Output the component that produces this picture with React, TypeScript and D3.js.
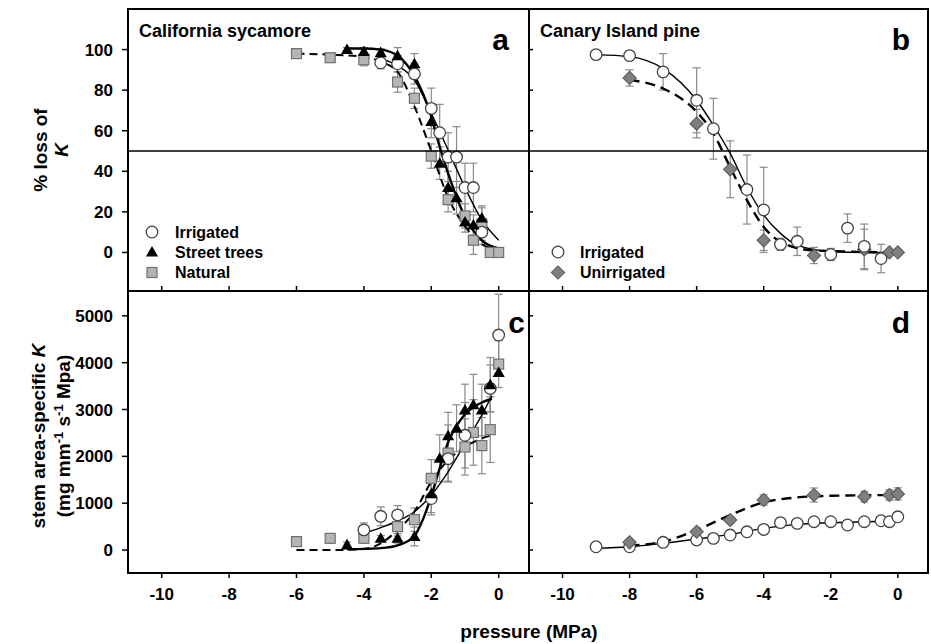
import React from 'react';
import * as d3 from 'd3';

// panel a: California sycamore, % loss of K
const aIrrX = [-3.5, -3, -2.5, -2, -1.75, -1.5, -1.25, -1, -0.75, -0.5];
const aIrrY = [93.5, 93, 88, 71, 59, 47, 47, 32, 32, 10];
const aIrrE = [3, 4, 5, 10, 14, 12, 15, 12, 12, 6];
const aStrX = [-4.5, -4, -3.5, -3, -2.5, -2, -1.75, -1.5, -1.25, -1, -0.75, -0.5];
const aStrY = [100, 99, 98.5, 97, 93, 64.5, 44, 32, 27, 15, 13.5, 17];
const aStrE = [1, 2, 2, 4, 5, 8, 8, 8, 8, 5, 5, 6];
const aNatX = [-6, -5, -4, -3, -2.5, -2, -1.5, -1, -0.75, -0.5, -0.25, 0];
const aNatY = [98, 96, 95, 84, 76, 47.5, 26, 18, 6, 14, 0, 0];
const aNatE = [1, 1, 3, 5, 5, 6, 6, 6, 7, 8, 1, 1];

const aIrrFitX = [-3.5, -3, -2.5, -2, -1.5, -1, -0.5, 0];
const aIrrFitY = [95.7, 92, 85, 68.6, 50.5, 32, 16, 6];
const aStrFitX = [-4.5, -4, -3.5, -3, -2.5, -2, -1.75, -1.5, -1, -0.5, 0];
const aStrFitY = [100.5, 100.5, 100, 97, 87, 67, 52, 39, 17.6, 6, 2];
const aNatFitX = [-6, -5, -4, -3.5, -3, -2.5, -2, -1.5, -1, -0.5, 0];
const aNatFitY = [98, 97.5, 96.5, 94, 89, 72, 50, 27, 13, 4, 1.5];

// panel b: Canary Island pine, % loss of K
const bIrrX = [-9, -8, -7, -6, -5.5, -4.5, -4, -3.5, -3, -2, -1.5, -1, -0.5];
const bIrrY = [97.5, 97, 89, 75, 61, 31, 21, 4, 5.5, -1, 12, 3, -3];
const bIrrE = [2, 2, 9, 16, 15, 17, 21, 3, 7, 3, 7, 11, 7];
const bUnX = [-8, -6, -5, -4, -2.5, -1, -0.25, 0];
const bUnY = [86, 63.5, 41, 6, -1.5, 1.5, 0, 0];
const bUnE = [4, 7, 14, 5, 4, 10, 1, 1];

const bIrrFitX = [-9, -8, -7, -6, -5.5, -5, -4.5, -4, -3.5, -3, -2, -1, 0];
const bIrrFitY = [97.5, 96.5, 90.6, 75, 62.7, 48.8, 32, 18.4, 9.4, 3.6, 0.5, 0, 0];
const bUnFitX = [-8, -7, -6, -5.5, -5, -4.5, -4, -3.5, -2.5, 0];
const bUnFitY = [85, 80.8, 69.3, 58.6, 42, 25.8, 12.6, 5.3, 1, 0];

// panel c: California sycamore, stem area-specific K
const cIrrX = [-4, -3.5, -3, -2, -1.5, -1, -0.25, 0];
const cIrrY = [430, 720, 750, 1100, 1950, 2450, 3450, 4590];
const cIrrE = [150, 200, 200, 350, 500, 700, 500, 870];
const cStrX = [-4.5, -3.5, -3, -2.5, -2, -1.75, -1.5, -1.25, -1, -0.75, -0.5, -0.25, 0];
const cStrY = [110, 250, 250, 290, 1200, 1960, 2440, 2600, 2990, 3100, 2990, 3530, 3790];
const cStrE = [60, 60, 100, 200, 400, 500, 500, 500, 550, 650, 550, 580, 0];
const cNatX = [-6, -5, -4, -3, -2.5, -2, -1.5, -1, -0.75, -0.5, -0.25, 0];
const cNatY = [180, 250, 250, 500, 650, 1530, 2070, 2200, 2510, 2230, 2570, 3970];
const cNatE = [0, 0, 100, 200, 250, 400, 600, 600, 700, 600, 700, 500];

const cIrrFitX = [-4, -3.5, -3, -2.5, -2, -1.5, -1, -0.5, -0.2];
const cIrrFitY = [356, 480, 620, 818, 1174, 1671, 2276, 2880, 3300];
const cStrFitX = [-4.5, -4, -3.5, -3, -2.5, -2.25, -2, -1.75, -1.5, -1.25, -1, -0.75, -0.5, -0.2];
const cStrFitY = [20, 25, 40, 100, 300, 650, 1150, 1750, 2300, 2650, 2900, 3050, 3150, 3230];
const cNatFitX = [-6, -5, -4, -3.5, -3, -2.5, -2, -1.5, -1, -0.5, -0.2];
const cNatFitY = [0, 0, 20, 142, 427, 818, 1458, 1920, 2205, 2383, 2454];

// panel d: Canary Island pine, stem area-specific K
const dIrrX = [-9, -8, -7, -6, -5.5, -5, -4.5, -4, -3.5, -3, -2.5, -2, -1.5, -1, -0.5, -0.25, 0];
const dIrrY = [70, 70, 165, 215, 250, 320, 390, 440, 585, 570, 605, 605, 535, 605, 625, 605, 710];
const dUnX = [-8, -6, -5, -4, -2.5, -1, -0.25, 0];
const dUnY = [164, 391, 641, 1068, 1175, 1140, 1175, 1197];
const dUnE = [60, 60, 60, 110, 150, 110, 110, 130];

const dIrrFitX = [-9, -8, -7, -6, -5, -4, -3, -2, -1, 0];
const dIrrFitY = [36, 71, 142, 235, 334, 462, 548, 583, 605, 619];
const dUnFitX = [-8, -7, -6, -5, -4, -3, -2, 0];
const dUnFitY = [92, 178, 427, 747, 1017, 1124, 1159, 1174];

const xTicks = [-10, -8, -6, -4, -2, 0];
const lossTicks = [0, 20, 40, 60, 80, 100];
const kTicks = [0, 1000, 2000, 3000, 4000, 5000];

const FONT = '"Liberation Sans", Arial, sans-serif';

const zip = (xs: number[], ys: number[], es?: number[]) =>
  xs.map((x, i) => ({ x, y: ys[i], e: es ? es[i] : 0 }));

type Pt = { x: number; y: number; e: number };

function Marker({ kind, x, y }: { kind: string; x: number; y: number }) {
  if (kind === 'circle')
    return <circle cx={x} cy={y} r={5.8} fill="#fff" stroke="#444" strokeWidth={1.3} />;
  if (kind === 'tri')
    return <path d={d3.symbol(d3.symbolTriangle, 64)()!} transform={`translate(${x},${y + 1})`} fill="#000" />;
  if (kind === 'square')
    return <rect x={x - 5} y={y - 5} width={10} height={10} fill="#b5b5b5" stroke="#707070" strokeWidth={1.2} />;
  return <rect x={x - 4.7} y={y - 4.7} width={9.4} height={9.4} fill="#7f7f7f" stroke="#555" strokeWidth={1}
    transform={`rotate(45 ${x} ${y})`} />;
}

function Panel({ x0, x1, y0, y1, yDomain, series, fits, top, left }: any) {
  const x = d3.scaleLinear().domain([-11, 0.9]).range([x0, x1]);
  const y = d3.scaleLinear().domain(yDomain).range([y1, y0]);
  const line = d3.line<number>().curve(d3.curveMonotoneX);
  return (
    <g>
      {series.map((s: any, si: number) =>
        s.pts.filter((p: Pt) => p.e > 0).map((p: Pt, i: number) => {
          const cx = x(p.x), ya = y(p.y + p.e), yb = y(p.y - p.e);
          return (
            <g key={`e${si}-${i}`} stroke="#8a8a8a" strokeWidth={1.2}>
              <line x1={cx} x2={cx} y1={ya} y2={yb} />
              <line x1={cx - 4} x2={cx + 4} y1={ya} y2={ya} />
              <line x1={cx - 4} x2={cx + 4} y1={yb} y2={yb} />
            </g>
          );
        })
      )}
      {fits.map((f: any, i: number) => {
        const d = line.x((_, k) => x(f.xs[k])).y((_, k) => y(f.ys[k]))(f.xs);
        return <path key={`f${i}`} d={d!} fill="none" stroke="#000" strokeWidth={f.w}
          strokeDasharray={f.dash || null} />;
      })}
      {series.map((s: any, si: number) =>
        s.pts.map((p: Pt, i: number) => <Marker key={`m${si}-${i}`} kind={s.kind} x={x(p.x)} y={y(p.y)} />)
      )}
      {top && <line x1={x0} x2={x1} y1={y(50)} y2={y(50)} stroke="#000" strokeWidth={1.5} />}
      {xTicks.map(t => (
        <line key={`xt${t}`} x1={x(t)} x2={x(t)} y1={y1} y2={top ? y1 - 5 : y1 + 5} stroke="#000" strokeWidth={1.5} />
      ))}
      {!top && xTicks.map(t => (
        <text key={`xl${t}`} x={x(t)} y={600} textAnchor="middle" fontSize={17} fontWeight="bold"
          fontFamily={FONT}>{t}</text>
      ))}
      {(top ? lossTicks : kTicks).map(t => (
        <line key={`yt${t}`} x1={x0} x2={left ? x0 - 6 : x0 + 4} y1={y(t)} y2={y(t)} stroke="#000" strokeWidth={1.5} />
      ))}
      {left && (top ? lossTicks : kTicks).map(t => (
        <text key={`yl${t}`} x={x0 - 15} y={y(t) + 6} textAnchor="end" fontSize={17} fontWeight="bold"
          fontFamily={FONT}>{t}</text>
      ))}
      <rect x={x0} y={y0} width={x1 - x0} height={y1 - y0} fill="none" stroke="#000" strokeWidth={2} />
    </g>
  );
}

export default function App() {
  const L0 = 128, L1 = 529, R1 = 928, T0 = 9, M = 291, B1 = 573;
  const lossDom = [-19, 120];
  const kDom = [-490, 5530];
  return (
    <div style={{ position: 'absolute', left: 0, top: 0 }}>
      <svg width={931} height={644} style={{ display: 'block', background: '#fff' }}>
        <Panel x0={L0} x1={L1} y0={T0} y1={M} yDomain={lossDom} top left
          series={[
            { kind: 'square', pts: zip(aNatX, aNatY, aNatE) },
            { kind: 'circle', pts: zip(aIrrX, aIrrY, aIrrE) },
            { kind: 'tri', pts: zip(aStrX, aStrY, aStrE) },
          ]}
          fits={[
            { xs: aNatFitX, ys: aNatFitY, w: 2, dash: '8,5' },
            { xs: aIrrFitX, ys: aIrrFitY, w: 1.4 },
            { xs: aStrFitX, ys: aStrFitY, w: 2.4 },
          ]} />
        <Panel x0={L1} x1={R1} y0={T0} y1={M} yDomain={lossDom} top
          series={[
            { kind: 'diamond', pts: zip(bUnX, bUnY, bUnE) },
            { kind: 'circle', pts: zip(bIrrX, bIrrY, bIrrE) },
          ]}
          fits={[
            { xs: bUnFitX, ys: bUnFitY, w: 2.4, dash: '10,6' },
            { xs: bIrrFitX, ys: bIrrFitY, w: 1.4 },
          ]} />
        <Panel x0={L0} x1={L1} y0={M} y1={B1} yDomain={kDom} left
          series={[
            { kind: 'square', pts: zip(cNatX, cNatY, cNatE) },
            { kind: 'circle', pts: zip(cIrrX, cIrrY, cIrrE) },
            { kind: 'tri', pts: zip(cStrX, cStrY, cStrE) },
          ]}
          fits={[
            { xs: cNatFitX, ys: cNatFitY, w: 2, dash: '8,5' },
            { xs: cIrrFitX, ys: cIrrFitY, w: 1.4 },
            { xs: cStrFitX, ys: cStrFitY, w: 2.4 },
          ]} />
        <Panel x0={L1} x1={R1} y0={M} y1={B1} yDomain={kDom}
          series={[
            { kind: 'circle', pts: zip(dIrrX, dIrrY, dIrrX.map(() => 40)) },
            { kind: 'diamond', pts: zip(dUnX, dUnY, dUnE) },
          ]}
          fits={[
            { xs: dUnFitX, ys: dUnFitY, w: 2.4, dash: '10,6' },
            { xs: dIrrFitX, ys: dIrrFitY, w: 1.4 },
          ]} />

        <g fontFamily={FONT} fontWeight="bold">
          <text x={139} y={37} fontSize={18}>California sycamore</text>
          <text x={540} y={37} fontSize={18}>Canary Island pine</text>
          <text x={509} y={50} fontSize={30} textAnchor="end">a</text>
          <text x={910} y={50} fontSize={30} textAnchor="end">b</text>
          <text x={525} y={333} fontSize={30} textAnchor="end">c</text>
          <text x={910} y={333} fontSize={30} textAnchor="end">d</text>

          <Marker kind="circle" x={152} y={232} />
          <Marker kind="tri" x={152} y={252} />
          <Marker kind="square" x={152} y={272.5} />
          <text x={175} y={238} fontSize={16}>Irrigated</text>
          <text x={175} y={258} fontSize={16}>Street trees</text>
          <text x={175} y={278} fontSize={16}>Natural</text>

          <Marker kind="circle" x={558} y={252} />
          <Marker kind="diamond" x={558} y={272.5} />
          <text x={580} y={258} fontSize={16}>Irrigated</text>
          <text x={580} y={278} fontSize={16}>Unirrigated</text>

          <text transform="translate(47,150) rotate(-90)" textAnchor="middle" fontSize={19}>% loss of</text>
          <text transform="translate(68,150) rotate(-90)" textAnchor="middle" fontSize={19} fontStyle="italic">K</text>
          <text transform="translate(45,436) rotate(-90)" textAnchor="middle" fontSize={19}>
            stem area-specific <tspan fontStyle="italic">K</tspan>
          </text>
          <text transform="translate(70,436) rotate(-90)" textAnchor="middle" fontSize={19}>
            (mg mm<tspan dy={-7} fontSize={13}>-1</tspan><tspan dy={7}> s</tspan>
            <tspan dy={-7} fontSize={13}>-1</tspan><tspan dy={7}> Mpa)</tspan>
          </text>
          <text x={529} y={638} textAnchor="middle" fontSize={19}>pressure (MPa)</text>
        </g>
      </svg>
    </div>
  );
}
